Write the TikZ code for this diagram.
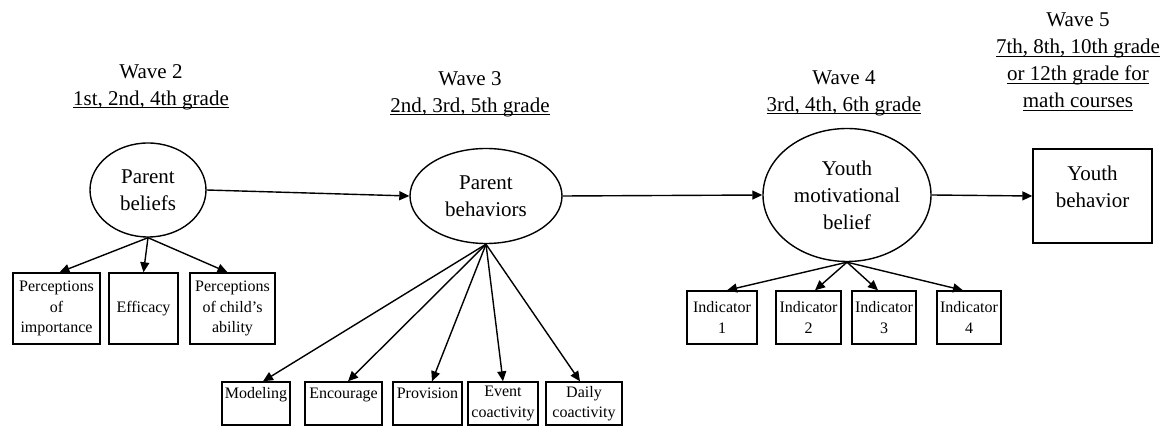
\documentclass[tikz,border=0pt]{standalone}
\usepackage{fontspec}
\setmainfont{Liberation Serif}
\usetikzlibrary{arrows.meta,shapes.geometric}
\newsavebox{\wulbox}
\newcommand{\wul}[1]{\sbox{\wulbox}{#1}\rlap{\usebox{\wulbox}}\rule[-3.2pt]{\wd\wulbox}{1pt}}

\begin{document}
\begin{tikzpicture}[x=1pt,y=-1pt,
    latent/.style={draw,ellipse,line width=1.4pt,inner sep=0pt,align=center,font=\fontsize{21}{27}\selectfont},
    obs/.style={draw,rectangle,line width=1.4pt,inner sep=1pt,align=center,font=\fontsize{16}{20.5}\selectfont},
    wave/.style={align=center,font=\fontsize{21}{27}\selectfont},
    arr/.style={line width=1.4pt,-{Triangle[length=10pt,width=9pt]}}]
\useasboundingbox (0,0) rectangle (1162,427);
% wave headings
\node[wave] (w2) at (151,87) {Wave 2\\\wul{1st, 2nd, 4th grade}}; % wave 2
\node[wave] (w3) at (470,94) {Wave 3\\\wul{2nd, 3rd, 5th grade}}; % wave 3
\node[wave] (w4) at (844,93) {Wave 4\\\wul{3rd, 4th, 6th grade}}; % wave 4
\node[wave] (w5) at (1078,62) {Wave 5\\\wul{7th, 8th, 10th grade}\\\wul{or 12th grade for}\\\wul{math courses}}; % wave 5
% constructs
\node[latent,minimum width=116,minimum height=94] (pb) at (148,190) {Parent\\beliefs}; % parent beliefs
\node[latent,minimum width=152,minimum height=95] (pbh) at (486,196) {Parent\\behaviors}; % parent behaviors
\node[latent,minimum width=168,minimum height=133] (ymb) at (847,195) {Youth\\motivational\\belief}; % youth belief
\node[obs,font=\fontsize{21}{27}\selectfont,minimum width=119,minimum height=94] (yb) at (1092.5,196) {Youth\\behavior\\[-9pt]\mbox{}}; % youth behavior
% indicators of parent beliefs
\node[obs,minimum width=87,minimum height=71] (pimp) at (56.5,308.5) {Perceptions\\of\\importance};
\node[obs,minimum width=69,minimum height=71] (eff) at (143.5,308.5) {Efficacy};
\node[obs,minimum width=85,minimum height=71] (pab) at (232.5,308.5) {Perceptions\\of child's\\ability};
% indicators of parent behaviors
\node[obs,minimum width=68,minimum height=43] (mod) at (256,403.5) {Modeling\\\mbox{}};
\node[obs,minimum width=77,minimum height=43] (enc) at (343.5,403.5) {Encourage\\\mbox{}};
\node[obs,minimum width=69,minimum height=43] (prov) at (427.5,403.5) {Provision\\\mbox{}};
\node[obs,minimum width=70,minimum height=43] (evt) at (503,403.5) {Event\\coactivity};
\node[obs,minimum width=76,minimum height=43] (day) at (584,403.5) {Daily\\coactivity};
% indicators of youth belief
\node[obs,minimum width=70,minimum height=53] (ind1) at (722,317.5) {Indicator\\1};
\node[obs,minimum width=65,minimum height=53] (ind2) at (808.5,317.5) {Indicator\\2};
\node[obs,minimum width=64,minimum height=53] (ind3) at (884,317.5) {Indicator\\3};
\node[obs,minimum width=64,minimum height=53] (ind4) at (969,317.5) {Indicator\\4};
% paths
\draw[arr] (pb.east) -- (pbh.west);
\draw[arr] (pbh.east) -- (ymb.west);
\draw[arr] (ymb.east) -- (yb.west);
\foreach \b/\s in {pimp/3,eff/0,pab/-5}
  \draw[arr] (pb.south) -- ([xshift=\s pt]\b.north);
\foreach \b/\s in {mod/7,enc/4.5,prov/4.5,evt/0,day/-4}
  \draw[arr] (pbh.south) -- ([xshift=\s pt]\b.north);
\foreach \b/\s in {ind1/5,ind2/6.5,ind3/-6,ind4/-6}
  \draw[arr] (ymb.south) -- ([xshift=\s pt]\b.north);
\end{tikzpicture}
\end{document}
